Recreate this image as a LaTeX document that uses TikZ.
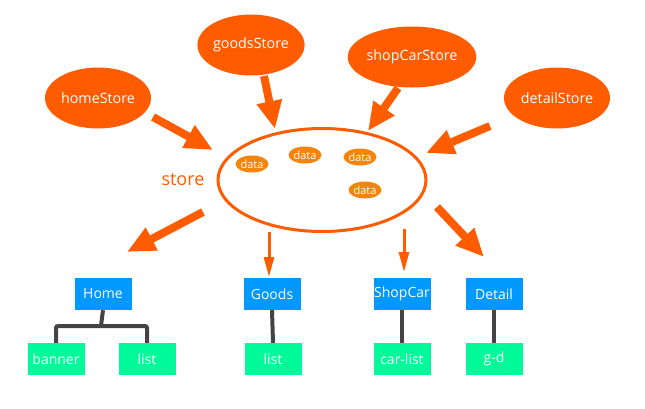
\documentclass[tikz,border=0pt]{standalone}
\usepackage{fontspec}
\setmainfont{Open Sans}
\usetikzlibrary{arrows.meta,shapes.geometric}
\definecolor{og}{HTML}{FF5C00}
\definecolor{dataog}{HTML}{F5850A}
\definecolor{boxblue}{HTML}{0099FF}
\definecolor{boxgreen}{HTML}{00FA9A}
\definecolor{linkgray}{HTML}{444444}
\begin{document}
\begin{tikzpicture}[x=1pt,y=-1pt,
  storeell/.style={ellipse,fill=og,text=white,inner sep=0pt,minimum width=106pt,minimum height=61pt,font=\fontsize{14.3}{16}\selectfont},
  dataell/.style={ellipse,fill=dataog,text=white,inner sep=0pt,minimum width=33pt,minimum height=17pt,font=\fontsize{11}{12}\selectfont},
  bluebox/.style={rectangle,fill=boxblue,text=white,inner sep=0pt,minimum width=57pt,minimum height=32pt,font=\fontsize{14}{16}\selectfont},
  greenbox/.style={rectangle,fill=boxgreen,text=white,inner sep=0pt,minimum width=57pt,minimum height=32pt,font=\fontsize{14}{16}\selectfont},
  bigarrow/.style={draw=og,line width=8pt,-{Triangle[width=24pt,length=28pt]}},
  thinarrow/.style={draw=og,line width=3pt,-{Triangle[width=10pt,length=20pt]}},
  link/.style={draw=linkgray,line width=4pt,rounded corners=2pt}
]
\useasboundingbox (0,0) rectangle (645,408);

% stores
\node[storeell] (homeStore) at (98,98) {homeStore};
\node[storeell] (goodsStore) at (251,45) {goodsStore};
\node[storeell] (shopCarStore) at (412,57) {shopCarStore};
\node[storeell] (detailStore) at (557,98) {detailStore};

% central store
\node[ellipse,draw=og,line width=3pt,minimum width=208pt,minimum height=103pt,inner sep=0pt] (store) at (322,180) {};
\node[text=og,font=\fontsize{18}{20}\selectfont] (storeLabel) at (183,180) {store};
\node[dataell] (d1) at (252,164) {data};
\node[dataell] (d2) at (305,155) {data};
\node[dataell] (d3) at (360,157) {data};
\node[dataell] (d4) at (365,190) {data};

% arrow coordinates
\coordinate (a1s) at (153,117); \coordinate (a1e) at (213,150);
\coordinate (a2s) at (264,76);  \coordinate (a2e) at (275,129);
\coordinate (a3s) at (398,88);  \coordinate (a3e) at (368,131);
\coordinate (a4s) at (490,126); \coordinate (a4e) at (426,153);
\coordinate (a5s) at (203,212); \coordinate (a5e) at (127,252);
\coordinate (a6s) at (269,232); \coordinate (a6e) at (269,277);
\coordinate (a7s) at (404,229); \coordinate (a7e) at (404,272);
\coordinate (a8s) at (437,207); \coordinate (a8e) at (484,257);

\draw[bigarrow] (a1s) -- (a1e);
\draw[bigarrow] (a2s) -- (a2e);
\draw[bigarrow] (a3s) -- (a3e);
\draw[bigarrow] (a4s) -- (a4e);
\draw[bigarrow] (a5s) -- (a5e);
\draw[thinarrow] (a6s) -- (a6e);
\draw[thinarrow] (a7s) -- (a7e);
\draw[bigarrow] (a8s) -- (a8e);

% pages
\node[bluebox] (home) at (103,294) {Home};
\node[bluebox] (goods) at (272,294) {Goods};
\node[bluebox] (shopcar) at (402,294) {ShopCar};
\node[bluebox] (detail) at (494,294) {Detail};

\node[greenbox] (banner) at (56,359) {banner};
\node[greenbox] (list1) at (147,359) {list};
\node[greenbox] (list2) at (273,359) {list};
\node[greenbox] (carlist) at (402,359) {car-list};
\node[greenbox] (gd) at (494,359) {g-d};

% links
\coordinate (hj) at (101,326);
\draw[link] (home.south) -- (hj);
\draw[link] (banner.north) |- (hj) -| (list1.north);
\draw[link] (goods.south) -- (list2.north);
\draw[link] (shopcar.south) -- (carlist.north);
\draw[link] (detail.south) -- (gd.north);
\end{tikzpicture}
\end{document}
